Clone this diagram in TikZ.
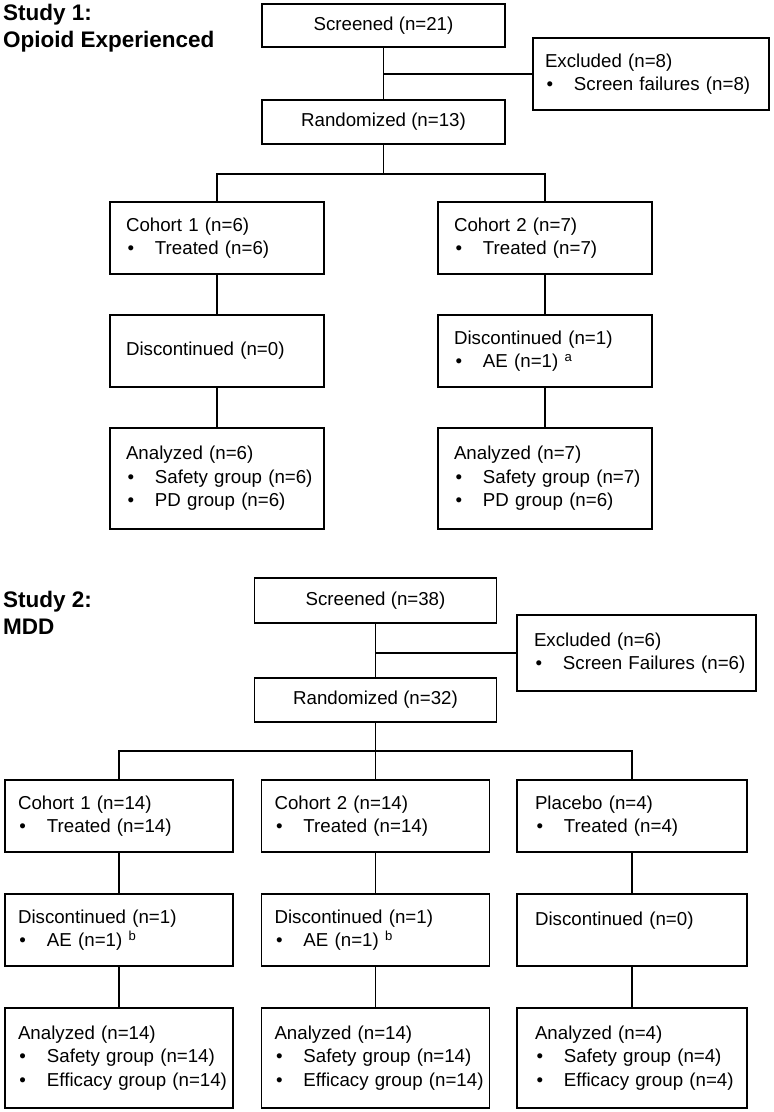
\documentclass[tikz,border=0pt]{standalone}
\usepackage{fontspec}
\setmainfont{Liberation Sans}
\usetikzlibrary{positioning,calc}

\newcommand{\boxfont}{\fontsize{18.7}{23.5}\selectfont}
\newcommand{\titlefont}{\fontsize{22.5}{27}\selectfont\bfseries}
\newcommand{\itm}[1]{\makebox[29pt][l]{\hspace{1.5pt}•}\mbox{#1}}

\tikzset{
	box/.style={draw, line width=1.8pt, inner sep=0pt, font=\boxfont},
	midbox/.style={box, align=center, minimum width=243pt, minimum height=44pt},
	s1list/.style={box, align=left, inner xsep=16pt, text width=182pt, minimum height=72pt},
	s2list/.style={box, align=left, inner xsep=13pt, text width=202pt, minimum height=72pt},
	pllist/.style={box, align=left, inner xsep=18pt, text width=194pt, minimum height=72pt},
	conn/.style={line width=1.5pt},
	studytitle/.style={anchor=north west, inner sep=0pt, align=left, font=\titlefont}
}

\begin{document}
\begin{tikzpicture}[x=1pt,y=-1pt]
	\useasboundingbox (0,0) rectangle (774,1112);

	% Study 1
	\node[studytitle] (title1) at (3,3.5) {Study 1:\\Opioid Experienced};

	\node[midbox, minimum height=43pt] (scr1) at (383.5,25.5) {Screened (n=21)};
	\node[box, align=left, inner xsep=12pt, text width=212pt, minimum height=72pt] (exc1) at (651,74) {Excluded (n=8)\\\itm{Screen failures (n=8)}};
	\node[midbox] (ran1) at (383.5,122) {Randomized (n=13)};

	\node[s1list] (coh11) at (217,238) {Cohort 1 (n=6)\\\itm{Treated (n=6)}};
	\node[s1list] (coh12) at (545,238) {Cohort 2 (n=7)\\\itm{Treated (n=7)}};
	\node[s1list] (dis11) at (217,351) {Discontinued (n=0)};
	\node[s1list] (dis12) at (545,351) {Discontinued (n=1)\\\itm{AE (n=1) \textsuperscript{a}}};
	\node[s1list, minimum height=101pt] (ana11) at (217,478.5) {Analyzed (n=6)\\\itm{Safety group (n=6)}\\\itm{PD group (n=6)}};
	\node[s1list, minimum height=101pt] (ana12) at (545,478.5) {Analyzed (n=7)\\\itm{Safety group (n=7)}\\\itm{PD group (n=6)}};

	\draw[conn] (scr1) -- (ran1);
	\draw[conn] (scr1.south |- exc1.west) -- (exc1.west);
	\draw[conn] (ran1.south) -- ++(0,29) coordinate (br1);
	\draw[conn] (coh11.north) -- (coh11.north |- br1) -- (coh12.north |- br1) -- (coh12.north);
	\draw[conn] (coh11) -- (dis11) -- (ana11);
	\draw[conn] (coh12) -- (dis12) -- (ana12);

	% Study 2
	\node[studytitle] (title2) at (3,590.5) {Study 2:\\MDD};

	\node[midbox, minimum width=242pt, minimum height=45pt] (scr2) at (375.5,600.5) {Screened (n=38)};
	\node[box, align=left, inner xsep=17pt, text width=205pt, minimum height=76pt] (exc2) at (636.5,653) {Excluded (n=6)\\\itm{Screen Failures (n=6)}};
	\node[midbox, minimum width=242pt] (ran2) at (375.5,700) {Randomized (n=32)};

	\node[s2list] (coh21) at (119,816) {Cohort 1 (n=14)\\\itm{Treated (n=14)}};
	\node[s2list] (coh22) at (375.5,816) {Cohort 2 (n=14)\\\itm{Treated (n=14)}};
	\node[pllist] (coh23) at (632,816) {Placebo (n=4)\\\itm{Treated (n=4)}};
	\node[s2list] (dis21) at (119,930) {Discontinued (n=1)\\\itm{AE (n=1) \textsuperscript{b}}};
	\node[s2list] (dis22) at (375.5,930) {Discontinued (n=1)\\\itm{AE (n=1) \textsuperscript{b}}};
	\node[pllist] (dis23) at (632,930) {Discontinued (n=0)\\\mbox{}};
	\node[s2list, minimum height=100pt] (ana21) at (119,1058) {Analyzed (n=14)\\\itm{Safety group (n=14)}\\\itm{Efficacy group (n=14)}};
	\node[s2list, minimum height=100pt] (ana22) at (375.5,1058) {Analyzed (n=14)\\\itm{Safety group (n=14)}\\\itm{Efficacy group (n=14)}};
	\node[pllist, minimum height=100pt] (ana23) at (632,1058) {Analyzed (n=4)\\\itm{Safety group (n=4)}\\\itm{Efficacy group (n=4)}};

	\draw[conn] (scr2) -- (ran2);
	\draw[conn] (scr2.south |- exc2.west) -- (exc2.west);
	\draw[conn] (ran2.south) -- ++(0,28) coordinate (br2);
	\draw[conn] (coh21.north) -- (coh21.north |- br2) -- (coh23.north |- br2) -- (coh23.north);
	\draw[conn] (br2) -- (coh22.north);
	\draw[conn] (coh21) -- (dis21) -- (ana21);
	\draw[conn] (coh22) -- (dis22) -- (ana22);
	\draw[conn] (coh23) -- (dis23) -- (ana23);
\end{tikzpicture}
\end{document}
